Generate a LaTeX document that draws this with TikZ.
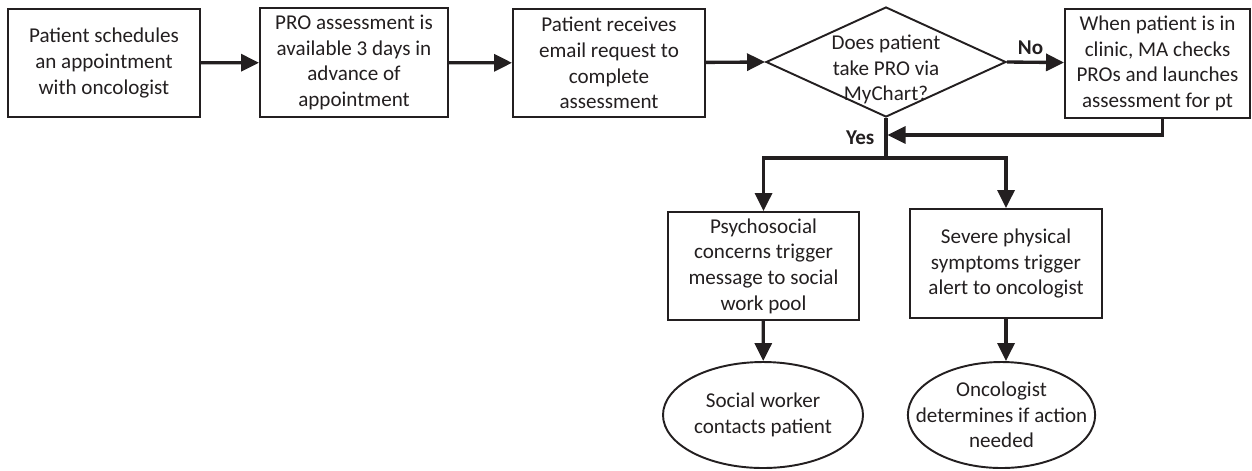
\documentclass[tikz,border=0pt]{standalone}
\usepackage{fontspec}
\setmainfont{Carlito}
\usepackage{xcolor}
\usepackage{tikz}
\usetikzlibrary{arrows.meta, shapes.geometric}
\definecolor{inkgray}{RGB}{35,31,32}

\begin{document}
\begin{tikzpicture}
    \tikzstyle{every node}=[font=\fontsize{12}{14.6}\selectfont, text=inkgray, align=center]
    \tikzstyle{box}=[draw=inkgray, line width=1.1pt, minimum width=3.84cm, minimum height=2.16cm, inner sep=2pt]
    \tikzstyle{decision}=[draw=inkgray, line width=1.1pt, diamond, minimum width=4.8cm, minimum height=2.2cm, inner sep=0pt]
    \tikzstyle{terminal}=[draw=inkgray, line width=1.1pt, ellipse, minimum width=4cm, minimum height=2.12cm, inner sep=0pt]
    \tikzstyle{answer}=[font=\fontsize{12}{14.6}\selectfont\bfseries]
    \tikzstyle{flow}=[draw=inkgray, line width=1.9pt, -{Triangle[length=0.36cm, width=0.34cm]}]
    \tikzstyle{link}=[draw=inkgray, line width=1.9pt]

    \useasboundingbox (0,0) rectangle (25.04,-9.4);

    % Top row
    \node[box] (sched) at (2.08,-1.26) {Patient schedules\\an appointment\\with oncologist};
    \node[box, minimum width=3.76cm, minimum height=2.18cm] (avail) at (7.08,-1.25) {PRO assessment is\\available 3 days in\\advance of\\appointment};
    \node[box] (email) at (12.18,-1.26) {Patient receives\\email request to\\complete\\assessment};
    \node[decision] (mychart) at (17.72,-1.24) {};
    \node (mycharttxt) at ([yshift=-0.15cm]mychart.center) {Does patient\\take PRO via\\MyChart?};
    \node[box, minimum width=3.7cm, minimum height=2.18cm] (clinic) at (23.15,-1.27) {When patient is in\\clinic, MA checks\\PROs and launches\\assessment for pt};

    % Second row
    \node[box, minimum width=3.82cm] (psycho) at (15.27,-5.32) {Psychosocial\\concerns trigger\\message to social\\work pool};
    \node[box, minimum height=2.18cm] (severe) at (20.12,-5.27) {Severe physical\\symptoms trigger\\alert to oncologist};

    % Outcomes
    \node[terminal] (social) at (15.26,-8.3) {Social worker\\contacts patient};
    \node[terminal, minimum width=3.74cm, inner xsep=-0.39cm] (onco) at (20.03,-8.3) {Oncologist\\determines if action\\needed};

    % Junction points
    \coordinate (yesjoin) at (17.72,-3.16);
    \coordinate (backjoin) at (17.75,-2.7);

    % Connectors
    \draw[flow] (sched) -- (avail);
    \draw[flow] (avail) -- (email);
    \draw[flow] (email) -- (mychart.west);
    \draw[flow] (mychart.east) -- node[answer, above, xshift=-0.1cm] {No} (clinic);
    \draw[flow] ([xshift=0.1cm]clinic.south) |- (backjoin);
    \draw[link] (mychart.south) -- node[answer, left, inner xsep=0.2cm] {Yes} (yesjoin);
    \draw[flow] (yesjoin) -| (psycho.north);
    \draw[flow] (yesjoin) -| (severe.north);
    \draw[flow] (psycho) -- (social);
    \draw[flow] (severe.south) -- (severe.south |- onco.north);
\end{tikzpicture}
\end{document}
